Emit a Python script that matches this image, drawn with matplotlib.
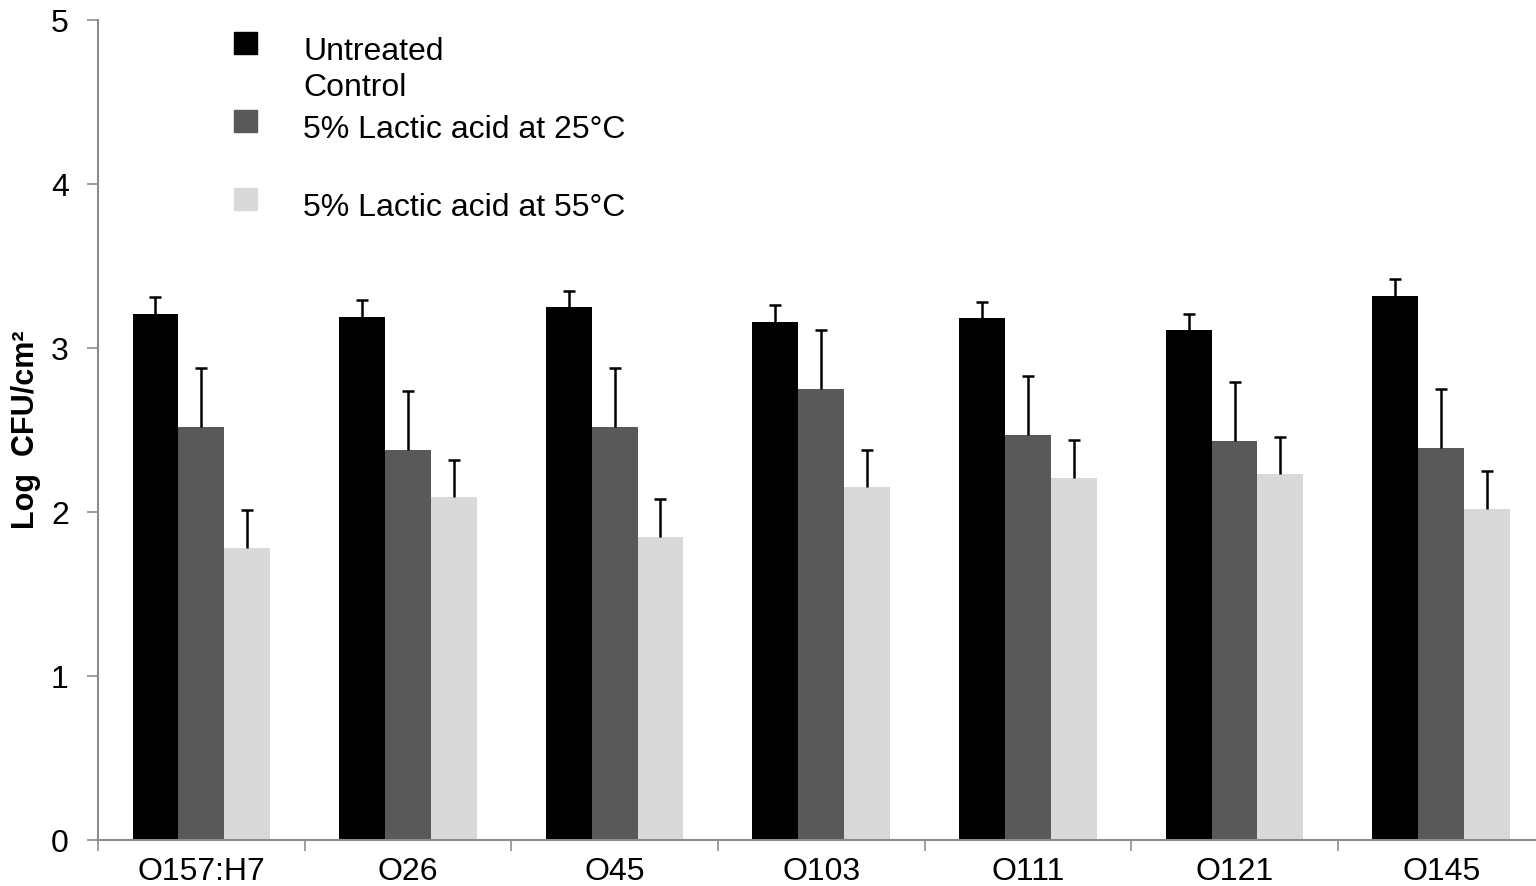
import matplotlib
matplotlib.use("Agg")
import matplotlib.pyplot as plt
from matplotlib.patches import Rectangle
import numpy as np

plt.rcParams['font.family'] = ['Liberation Sans', 'DejaVu Sans']

# serotypes and treatment means (log CFU/cm2) with upper error
serotypes = ["O157:H7", "O26", "O45", "O103", "O111", "O121", "O145"]
control = [3.21, 3.19, 3.25, 3.16, 3.18, 3.11, 3.32]
control_err = [0.10, 0.10, 0.10, 0.10, 0.10, 0.10, 0.10]
lactic25 = [2.52, 2.38, 2.52, 2.75, 2.47, 2.43, 2.39]
lactic25_err = [0.36, 0.36, 0.36, 0.36, 0.36, 0.36, 0.36]
lactic55 = [1.78, 2.09, 1.85, 2.15, 2.21, 2.23, 2.02]
lactic55_err = [0.23, 0.23, 0.23, 0.23, 0.23, 0.23, 0.23]

series = [
    ("Untreated\nControl", control, control_err, "#000000"),
    ("5% Lactic acid at 25°C", lactic25, lactic25_err, "#595959"),
    ("5% Lactic acid at 55°C", lactic55, lactic55_err, "#d9d9d9"),
]

fig = plt.figure(figsize=(15.36, 8.86), dpi=100)
ax = fig.add_axes([98/1536, 46/886, 1446.5/1536, 820/886])

x = np.arange(len(serotypes))
w = 0.222
for i, (name, vals, err, col) in enumerate(series):
    pos = x + (i - 1) * w
    vals = np.array(vals)
    top = vals + np.array(err)
    ax.bar(pos, vals, w, color=col, edgecolor='none', zorder=2)
    # upper error only, cap at the top end
    ax.vlines(pos, vals, top, color='black', linewidth=1.8, zorder=3)
    ax.plot(pos, top, ls='none', marker='_', markersize=9, mew=1.8,
            color='black', zorder=3)

ax.set_xlim(-0.5, len(serotypes) - 0.5)
ax.set_ylim(0, 5)
ax.set_yticks(range(6))
ax.set_xticks(x)
ax.set_xticklabels(serotypes, fontsize=23)
ax.set_xticks(np.arange(len(serotypes) + 1) - 0.5, minor=True)
ax.tick_params(axis='x', which='major', length=0, pad=12)
ax.tick_params(axis='x', which='minor', length=8, width=1.2, color='#8c8c8c', direction='out')
ax.tick_params(axis='y', length=8, width=1.2, color='#8c8c8c', labelsize=23, pad=13)

for s in ['top', 'right']:
    ax.spines[s].set_visible(False)
for s in ['left', 'bottom']:
    ax.spines[s].set_color('#8c8c8c')
    ax.spines[s].set_linewidth(1.5)

ax.set_ylabel("Log  CFU/cm²", fontsize=22, fontweight='bold', labelpad=7)

# legend drawn as squares with text beside them
legend_y = [32, 110, 188]
text_y = [37, 115, 193]
for (name, vals, err, col), sy, ty in zip(series, legend_y, text_y):
    fig.patches.append(Rectangle((234/1536, 1 - (sy + 22)/886), 23/1536, 22/886,
                                 transform=fig.transFigure, color=col))
    fig.text(303/1536, 1 - ty/886, name, fontsize=23, va='top', ha='left',
             linespacing=1.25)

fig.savefig("out.png", dpi=100)
